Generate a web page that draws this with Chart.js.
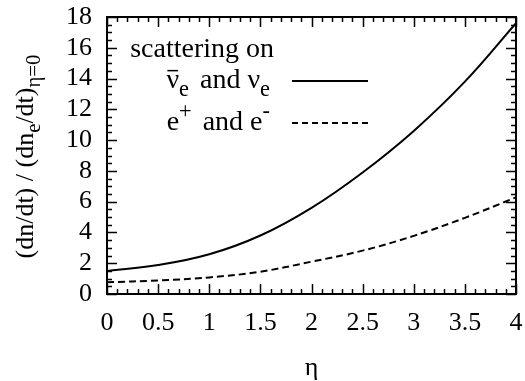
<!DOCTYPE html>
<html>
<head>
<meta charset="utf-8">
<script src="https://cdn.jsdelivr.net/npm/chart.js@4.4.1/dist/chart.umd.min.js"></script>
<style>
  html, body { margin: 0; padding: 0; background: #fff; }
  #wrap { width: 525px; height: 381px; }
</style>
</head>
<body>
<div id="wrap"><canvas id="chart" width="525" height="381"></canvas></div>
<script>
// values
var eta = [0, 0.5, 1, 1.5, 2, 2.5, 3, 3.5, 4];
var nuScatter = [1.5, 1.88, 2.58, 3.8, 5.6, 7.9, 10.6, 13.8, 17.6];
var eeScatter = [0.76, 0.88, 1.08, 1.45, 2.1, 2.82, 3.78, 4.95, 6.28];

var xTicks = [0, 0.5, 1, 1.5, 2, 2.5, 3, 3.5, 4];
var yTicks = [0, 2, 4, 6, 8, 10, 12, 14, 16, 18];

// text pieces: [text, 'n' normal | 'sub' | 'sup' | 'bar' (letter with macron)]
var yTitle = [['(dn/dt) / (dn', 'n'], ['e', 'sub'], ['/dt)', 'n'], ['η=0', 'sub']];
var legendTitle = [['scattering on', 'n']];
var legendNu = [['ν', 'bar'], ['e', 'sub'], [' and ν', 'n'], ['e', 'sub']];
var legendE = [['e', 'n'], ['+', 'sup'], [' and e', 'n'], ['-', 'sup']];

var FONT = '"Liberation Serif", "Times New Roman", serif';

function toPoints(xs, ys) {
    return xs.map(function(x, i) { return {x: x, y: ys[i]}; });
}

function pieceFont(kind, big) {
    var small = (kind === 'sub' || kind === 'sup');
    return (small ? big * 0.8 : big) + 'px ' + FONT;
}

function piecesWidth(ctx, pieces, big, gap) {
    var w = 0;
    pieces.forEach(function(p) {
        ctx.font = pieceFont(p[1], big);
        w += ctx.measureText(p[0]).width;
        if (p[1] === 'sub' || p[1] === 'sup') w += gap;
    });
    return w;
}

function drawPieces(ctx, pieces, x, y, big, gap) {
    pieces.forEach(function(p) {
        ctx.font = pieceFont(p[1], big);
        var dy = p[1] === 'sub' ? big * 0.27 : (p[1] === 'sup' ? -big * 0.42 : 0);
        ctx.fillText(p[0], x, y + dy);
        var w = ctx.measureText(p[0]).width;
        if (p[1] === 'bar') {
            ctx.save();
            ctx.lineWidth = 1.5;
            ctx.beginPath();
            ctx.moveTo(x + 1, y - big * 0.62);
            ctx.lineTo(x + w - 1, y - big * 0.62);
            ctx.stroke();
            ctx.restore();
        }
        x += w;
        if (p[1] === 'sub' || p[1] === 'sup') x += gap;
    });
}

var frameAndTicks = {
    id: 'frameAndTicks',
    afterDraw: function(chart) {
        var ctx = chart.ctx;
        var a = chart.chartArea;
        var xs = chart.scales.x, ys = chart.scales.y;
        ctx.save();
        ctx.strokeStyle = '#000';
        ctx.fillStyle = '#000';

        // inward ticks on all four sides
        ctx.lineWidth = 1.5;
        ctx.beginPath();
        for (var i = 0; i <= 40; i++) {
            var px = Math.round(xs.getPixelForValue(i / 10)) + 0.5;
            var len = (i % 5 === 0) ? 10 : 5;
            ctx.moveTo(px, a.bottom); ctx.lineTo(px, a.bottom - len);
            ctx.moveTo(px, a.top); ctx.lineTo(px, a.top + len);
        }
        for (var j = 0; j <= 36; j++) {
            var py = Math.round(ys.getPixelForValue(j / 2)) + 0.5;
            var ylen = (j % 4 === 0) ? 10 : 5;
            ctx.moveTo(a.left, py); ctx.lineTo(a.left + ylen, py);
            ctx.moveTo(a.right, py); ctx.lineTo(a.right - ylen, py);
        }
        ctx.stroke();

        ctx.lineWidth = 2;
        ctx.strokeRect(a.left, a.top, a.right - a.left, a.bottom - a.top);

        // y axis title with subscripts
        ctx.save();
        ctx.translate(33, (a.top + a.bottom) / 2 + 1);
        ctx.rotate(-Math.PI / 2);
        ctx.textBaseline = 'alphabetic';
        ctx.textAlign = 'left';
        var tw = piecesWidth(ctx, yTitle, 26, 0);
        drawPieces(ctx, yTitle, -tw / 2, 0, 26, 0);
        ctx.restore();

        // key
        ctx.textBaseline = 'alphabetic';
        ctx.textAlign = 'left';
        var keyRight = 274;
        var rows = [
            {text: legendTitle, base: 57},
            {text: legendNu, base: 88, ds: 0},
            {text: legendE, base: 130, ds: 1}
        ];
        rows.forEach(function(r) {
            var w = piecesWidth(ctx, r.text, 28, 4);
            drawPieces(ctx, r.text, keyRight - w, r.base, 28, 4);
            if (r.ds !== undefined) {
                var d = chart.data.datasets[r.ds];
                var ly = r.base - 7;
                ctx.save();
                ctx.lineWidth = d.borderWidth;
                ctx.setLineDash(d.borderDash ? [6, 4] : []);
                ctx.beginPath();
                ctx.moveTo(292, ly);
                ctx.lineTo(368, ly);
                ctx.stroke();
                ctx.restore();
            }
        });
        ctx.restore();
    }
};

new Chart(document.getElementById('chart'), {
    type: 'line',
    data: {
        datasets: [{
            label: 'nu',
            data: toPoints(eta, nuScatter),
            borderColor: '#000',
            borderWidth: 2,
            pointRadius: 0,
            tension: 0.4,
            fill: false
        }, {
            label: 'e',
            data: toPoints(eta, eeScatter),
            borderColor: '#000',
            borderWidth: 2,
            borderDash: [7, 4],
            pointRadius: 0,
            tension: 0.4,
            fill: false
        }]
    },
    options: {
        responsive: false,
        animation: false,
        devicePixelRatio: 1,
        layout: { padding: { top: 17, right: 9, left: 0, bottom: 0 } },
        plugins: {
            legend: { display: false },
            tooltip: { enabled: false }
        },
        scales: {
            x: {
                type: 'linear',
                min: 0,
                max: 4,
                afterBuildTicks: function(s) { s.ticks = xTicks.map(function(v) { return {value: v}; }); },
                afterFit: function(s) { s.height = 87; s.paddingLeft = 0; s.paddingRight = 0; },
                grid: { display: false, drawTicks: false },
                border: { display: false },
                ticks: {
                    color: '#000',
                    padding: 14,
                    maxRotation: 0,
                    autoSkip: false,
                    callback: function(v) { return String(v); },
                    font: { family: FONT, size: 26 }
                },
                title: {
                    display: true,
                    text: 'η',
                    color: '#000',
                    padding: { top: 4, bottom: -3 },
                    font: { family: FONT, size: 26 }
                }
            },
            y: {
                type: 'linear',
                min: 0,
                max: 18,
                afterBuildTicks: function(s) { s.ticks = yTicks.map(function(v) { return {value: v}; }); },
                afterFit: function(s) { s.width = 107; s.paddingTop = 0; s.paddingBottom = 0; },
                grid: { display: false, drawTicks: false },
                border: { display: false },
                ticks: {
                    color: '#000',
                    padding: 15,
                    autoSkip: false,
                    callback: function(v) { return String(v); },
                    font: { family: FONT, size: 26 }
                }
            }
        }
    },
    plugins: [frameAndTicks]
});
</script>
</body>
</html>
